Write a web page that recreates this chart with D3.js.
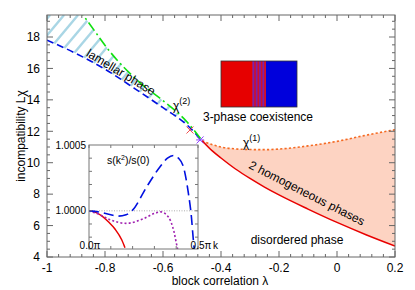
<!DOCTYPE html>
<html><head><meta charset="utf-8">
<script src="https://cdn.jsdelivr.net/npm/d3@7/dist/d3.min.js"></script>
<style>body{margin:0;background:#fff} text{font-family:"Liberation Sans",Arial,Helvetica,sans-serif;fill:#000}</style>
</head><body><svg id="c" width="415" height="290"></svg>
<script>
// ---- main chart data ----
const xTicks = [-1, -0.8, -0.6, -0.4, -0.2, 0, 0.2];
const xTickLabels = ["-1", "-0.8", "-0.6", "-0.4", "-0.2", "0", "0.2"];
const yTicks = [4, 6, 8, 10, 12, 14, 16, 18];
// two-phase region (shared lambda grid)
const lam2 = [-0.465, -0.43, -0.4, -0.35, -0.3, -0.25, -0.2, -0.1, 0, 0.1, 0.2];
const chiOrange = [11.4, 11.15, 11.0, 10.88, 10.84, 10.83, 10.87, 11.07, 11.36, 11.75, 12.1];
const chiRed = [11.4, 10.75, 10.3, 9.6, 9.0, 8.45, 7.95, 7.05, 6.2, 5.42, 4.7];
// lamellar phase boundaries
const lamBlue = [-1, -0.9, -0.8, -0.7, -0.6, -0.52, -0.465];
const chiBlue = [17.8, 16.95, 15.95, 14.75, 13.5, 12.45, 11.4];
const lamGreen = [-0.895, -0.85, -0.78, -0.68, -0.6, -0.52, -0.465];
const chiGreen = [19.9, 18.75, 17.0, 15.1, 13.95, 12.65, 11.4];
// markers near triple point
const markRed = [-0.507, 12.08];
const markPurple = [-0.472, 11.45];
// ---- inset data ----
const kTickLabels = ["0.0\u03c0", "0.5\u03c0"];
const sTickLabels = ["1.0000", "1.0005"];
const kRed = [0, 0.03, 0.06, 0.09, 0.12, 0.15, 0.165];
const sRed = [1.0, 0.999988, 0.99996, 0.999915, 0.99986, 0.99978, 0.99972];
const kPur = [0, 0.05, 0.1, 0.17, 0.25, 0.3, 0.33, 0.355, 0.375, 0.39, 0.4, 0.41];
const sPur = [1.0, 0.99997, 0.99993, 0.999905, 0.99994, 0.99998, 0.999992, 0.99997, 0.99992, 0.99984, 0.99976, 0.99968];
const kBlue = [0, 0.05, 0.1, 0.134, 0.17, 0.2, 0.265, 0.326, 0.36, 0.387, 0.41, 0.433, 0.456, 0.47, 0.478, 0.49];
const sBlue = [1.0, 0.99999, 0.99997, 0.99996, 0.99997, 1.000005, 1.000183, 1.000335, 1.0004, 1.00042, 1.0004, 1.000335, 1.000132, 0.99995, 0.99979, 0.9996];

const svg = d3.select("#c");
const L = 47, R = 395, T = 15, B = 257;
const x = d3.scaleLinear().domain([-1, 0.2]).range([L, R]);
const y = d3.scaleLinear().domain([4, 19.4]).range([B, T]);
const frameCol = "#666";

const defs = svg.append("defs");
defs.append("clipPath").attr("id", "plotClip").append("rect")
  .attr("x", L).attr("y", T).attr("width", R - L).attr("height", B - T);

const line = d3.line().x(d => x(d[0])).y(d => y(d[1])).curve(d3.curveMonotoneX);
const zip = (a, b) => a.map((v, i) => [v, b[i]]);

const g = svg.append("g").attr("clip-path", "url(#plotClip)");

// hatched lamellar region
const yTopOut = y.domain()[1] + 1;
const hatchPts = [[lamBlue[0], yTopOut], [lamGreen[0], yTopOut]]
  .concat(zip(lamGreen, chiGreen))
  .concat(zip(lamBlue, chiBlue).reverse());
defs.append("clipPath").attr("id", "lamClip").append("path")
  .attr("d", d3.line().x(d => x(d[0])).y(d => y(d[1]))(hatchPts) + "Z");
const hg = g.append("g").attr("clip-path", "url(#lamClip)")
  .attr("stroke", "#a9d6e5").attr("stroke-width", 2.4);
const slant = Math.tan(50 * Math.PI / 180);
for (let c = L - 200; c < R; c += 14) {
  hg.append("line").attr("x1", c).attr("y1", B).attr("x2", c + (B - T) / slant).attr("y2", T);
}

// two-phase fill
const area = d3.area().x(d => x(d[0])).y0(d => y(d[2])).y1(d => y(d[1])).curve(d3.curveMonotoneX);
g.append("path").datum(lam2.map((l, i) => [l, chiOrange[i], chiRed[i]]))
  .attr("d", area).attr("fill", "#fdd3c2");

// curves
g.append("path").attr("d", line(zip(lamBlue, chiBlue))).attr("fill", "none")
  .attr("stroke", "#0010e0").attr("stroke-width", 1.6).attr("stroke-dasharray", "7,4");
g.append("path").attr("d", line(zip(lamGreen, chiGreen))).attr("fill", "none")
  .attr("stroke", "#10e010").attr("stroke-width", 1.6).attr("stroke-dasharray", "10,3.5,2,3.5");
g.append("path").attr("d", line(zip(lam2, chiOrange))).attr("fill", "none")
  .attr("stroke", "#f56a22").attr("stroke-width", 1.6).attr("stroke-dasharray", "2.2,2.2");
g.append("path").attr("d", line(zip(lam2, chiRed))).attr("fill", "none")
  .attr("stroke", "#e80000").attr("stroke-width", 1.5);

// markers
const mr = svg.append("g").attr("transform", `translate(${x(markRed[0])},${y(markRed[1])})`)
  .attr("stroke", "#f05050").attr("stroke-width", 1);
mr.append("line").attr("x1", -3.5).attr("y1", -3.5).attr("x2", 3.5).attr("y2", 3.5);
mr.append("line").attr("x1", -3.5).attr("y1", 3.5).attr("x2", 3.5).attr("y2", -3.5);
const mp = svg.append("g").attr("transform", `translate(${x(markPurple[0])},${y(markPurple[1])})`)
  .attr("stroke", "#9040ff").attr("stroke-width", 1);
mp.append("line").attr("x1", -3.5).attr("y1", -3.5).attr("x2", 3.5).attr("y2", 3.5);
mp.append("line").attr("x1", -3.5).attr("y1", 3.5).attr("x2", 3.5).attr("y2", -3.5);
mp.append("line").attr("x1", -4).attr("y1", 0).attr("x2", 4).attr("y2", 0);

// frame & ticks
svg.append("rect").attr("x", L).attr("y", T).attr("width", R - L).attr("height", B - T)
  .attr("fill", "none").attr("stroke", frameCol).attr("stroke-width", 1);
const tk = svg.append("g").attr("stroke", frameCol).attr("stroke-width", 1);
const xMinor = d3.range(0, 31).map(i => -1 + i * 0.04);
xMinor.forEach((v, i) => {
  const len = (i % 5 === 0) ? 6 : 3;
  const px = x(v);
  tk.append("line").attr("x1", px).attr("x2", px).attr("y1", B).attr("y2", B - len);
  tk.append("line").attr("x1", px).attr("x2", px).attr("y1", T).attr("y2", T + len);
});
const yMinor = d3.range(0, 31).map(i => 4 + i * 0.5).filter(v => v <= 19.4);
yMinor.forEach((v, i) => {
  const len = (i % 4 === 0) ? 6 : 3;
  const py = y(v);
  tk.append("line").attr("y1", py).attr("y2", py).attr("x1", L).attr("x2", L + len);
  tk.append("line").attr("y1", py).attr("y2", py).attr("x1", R).attr("x2", R - len);
});
xTicks.forEach((v, i) => svg.append("text").attr("x", x(v)).attr("y", 272)
  .attr("text-anchor", "middle").attr("font-size", 12).text(xTickLabels[i]));
yTicks.forEach(v => svg.append("text").attr("x", 40).attr("y", y(v) + 4.3)
  .attr("text-anchor", "end").attr("font-size", 12).text(v));
svg.append("text").attr("x", 220).attr("y", 285).attr("text-anchor", "middle")
  .attr("font-size", 12).text("block correlation \u03bb");
svg.append("text").attr("transform", "translate(25,136) rotate(-90)").attr("text-anchor", "middle")
  .attr("font-size", 12).text("incompatibility L\u03c7");

// annotations
svg.append("text").attr("transform", "translate(121,72) rotate(31)").attr("text-anchor", "middle")
  .attr("dy", "0.35em").attr("font-size", 12).text("lamellar phase");
svg.append("text").attr("transform", "translate(307,193) rotate(27)").attr("text-anchor", "middle")
  .attr("dy", "0.35em").attr("font-size", 12).text("2 homogeneous phases");
svg.append("text").attr("x", 297).attr("y", 244).attr("text-anchor", "middle")
  .attr("font-size", 12).text("disordered phase");
svg.append("text").attr("x", 258).attr("y", 121).attr("text-anchor", "middle")
  .attr("font-size", 12).text("3-phase coexistence");
const chi2 = svg.append("text").attr("x", 173).attr("y", 110).attr("font-size", 12);
chi2.append("tspan").text("\u03c7");
chi2.append("tspan").attr("dy", -6).attr("font-size", 9).text("(2)");
const chi1 = svg.append("text").attr("x", 243).attr("y", 147).attr("font-size", 12);
chi1.append("tspan").text("\u03c7");
chi1.append("tspan").attr("dy", -6).attr("font-size", 9).text("(1)");

// 3-phase illustration box
const bx = svg.append("g");
bx.append("rect").attr("x", 221).attr("y", 61).attr("width", 31).attr("height", 46).attr("fill", "#e60000");
bx.append("rect").attr("x", 252).attr("y", 61).attr("width", 14).attr("height", 46).attr("fill", "#d0102a");
[252.5, 255.8, 259.1, 262.4].forEach(sx => bx.append("rect").attr("x", sx).attr("y", 61)
  .attr("width", 1.7).attr("height", 46).attr("fill", "#7a1fa8"));
bx.append("rect").attr("x", 266).attr("y", 61).attr("width", 31).attr("height", 46).attr("fill", "#0000dc");
bx.append("rect").attr("x", 221).attr("y", 61).attr("width", 76).attr("height", 46)
  .attr("fill", "none").attr("stroke", "#333").attr("stroke-width", 0.8);

// ---- inset ----
const iL = 89, iR = 198, iT = 145, iB = 249;
const kx = d3.scaleLinear().domain([0, 0.5]).range([iL, iR]);
const sy = d3.scaleLinear().domain([0.99971, 1.0005]).range([iB, iT]);
defs.append("clipPath").attr("id", "insetClip").append("rect")
  .attr("x", iL).attr("y", iT).attr("width", iR - iL).attr("height", iB - iT);
svg.append("rect").attr("x", iL).attr("y", iT).attr("width", iR - iL).attr("height", iB - iT).attr("fill", "#fff");
const ig = svg.append("g").attr("clip-path", "url(#insetClip)");
const iline = d3.line().x(d => kx(d[0])).y(d => sy(d[1])).curve(d3.curveMonotoneX);
ig.append("line").attr("x1", iL).attr("x2", iR).attr("y1", sy(1)).attr("y2", sy(1))
  .attr("stroke", "#999").attr("stroke-width", 0.8).attr("stroke-dasharray", "1,1.5");
ig.append("path").attr("d", iline(zip(kRed, sRed))).attr("fill", "none")
  .attr("stroke", "#e80000").attr("stroke-width", 1.5);
ig.append("path").attr("d", iline(zip(kPur, sPur))).attr("fill", "none")
  .attr("stroke", "#a020b0").attr("stroke-width", 1.6).attr("stroke-dasharray", "2,2.2");
ig.append("path").attr("d", iline(zip(kBlue, sBlue))).attr("fill", "none")
  .attr("stroke", "#0010e0").attr("stroke-width", 1.6).attr("stroke-dasharray", "10,5");
svg.append("rect").attr("x", iL).attr("y", iT).attr("width", iR - iL).attr("height", iB - iT)
  .attr("fill", "none").attr("stroke", "#777").attr("stroke-width", 1);
const itk = svg.append("g").attr("stroke", "#777").attr("stroke-width", 1);
d3.range(0, 6).map(i => i * 0.1).forEach(v => {
  itk.append("line").attr("x1", kx(v)).attr("x2", kx(v)).attr("y1", iB).attr("y2", iB - 3);
  itk.append("line").attr("x1", kx(v)).attr("x2", kx(v)).attr("y1", iT).attr("y2", iT + 3);
});
d3.range(0, 8).map(i => 0.9997 + i * 0.0001).filter(v => v >= 0.99971).forEach(v => {
  itk.append("line").attr("y1", sy(v)).attr("y2", sy(v)).attr("x1", iL).attr("x2", iL + 3);
  itk.append("line").attr("y1", sy(v)).attr("y2", sy(v)).attr("x1", iR).attr("x2", iR - 3);
});
[1.0, 1.0005].forEach((v, i) => svg.append("text").attr("x", 86).attr("y", sy(v) + 3.5)
  .attr("text-anchor", "end").attr("font-size", 10).text(sTickLabels[i]));
[0, 0.5].forEach((v, i) => svg.append("text").attr("x", kx(v) + (i ? 3 : 1)).attr("y", 249)
  .attr("text-anchor", "middle").attr("font-size", 10).text(kTickLabels[i]));
svg.append("text").attr("x", 213).attr("y", 249).attr("font-size", 10).text("k");
const st = svg.append("text").attr("x", 107).attr("y", 164).attr("font-size", 10.5);
st.append("tspan").text("s(k");
st.append("tspan").attr("dy", -4).attr("font-size", 7).text("2");
st.append("tspan").attr("dy", 4).text(")/s(0)");
</script></body></html>
